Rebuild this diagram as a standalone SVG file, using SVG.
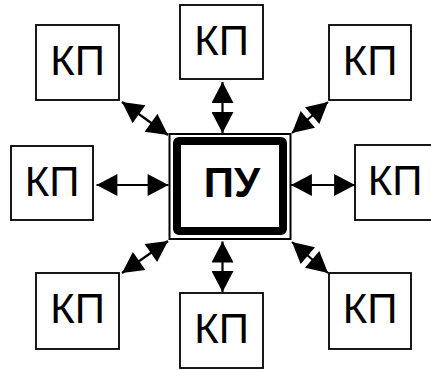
<svg xmlns="http://www.w3.org/2000/svg" width="431" height="370" viewBox="0 0 431 370">
<style>
.kp rect{fill:#fff;stroke:#000;stroke-width:1.8}
.kp text{font-family:"Liberation Sans",Arial,sans-serif;font-size:42px;text-anchor:middle;fill:#000}
.con line{stroke:#000;stroke-width:2.2;marker-start:url(#ah);marker-end:url(#ah)}
</style>
<defs>
<marker id="ah" markerUnits="userSpaceOnUse" markerWidth="22" markerHeight="22" viewBox="0 0 19 20" refX="19" refY="10" orient="auto-start-reverse">
<path d="M0,0 L19,10 L0,20 Z" fill="#000"/>
</marker>
</defs>
<rect width="431" height="370" fill="#fff"/>
<g id="connectors" class="con">
<line x1="222.5" y1="82" x2="222.5" y2="133"/>
<line x1="222.5" y1="241.5" x2="222.5" y2="292"/>
<line x1="96.5" y1="185" x2="168.5" y2="185"/>
<line x1="291" y1="185" x2="355" y2="185"/>
<line x1="122" y1="102" x2="168" y2="135"/>
<line x1="328" y1="102" x2="292" y2="133"/>
<line x1="122" y1="273" x2="168" y2="241"/>
<line x1="328" y1="273" x2="292" y2="242"/>
</g>
<g id="pu">
<rect x="169.5" y="134" width="121" height="105" fill="#fff" stroke="#000" stroke-width="2"/>
<rect x="177" y="141" width="106" height="90" rx="2" fill="#fff" stroke="#000" stroke-width="8"/>
<text x="232" y="197" font-family="'Liberation Sans',Arial,sans-serif" font-size="42" font-weight="bold" text-anchor="middle">ПУ</text>
</g>
<g id="kp-tl" class="kp"><rect x="36" y="25" width="83" height="75"/><text x="77.5" y="75">КП</text></g>
<g id="kp-t" class="kp"><rect x="180" y="5" width="83" height="74"/><text x="221.5" y="55">КП</text></g>
<g id="kp-tr" class="kp"><rect x="329" y="25" width="82" height="75"/><text x="370" y="75">КП</text></g>
<g id="kp-l" class="kp"><rect x="11" y="146" width="82" height="74"/><text x="52" y="196">КП</text></g>
<g id="kp-r" class="kp"><rect x="355" y="145" width="82" height="75"/><text x="395" y="195">КП</text></g>
<g id="kp-bl" class="kp"><rect x="36" y="273" width="83" height="76"/><text x="77.5" y="323">КП</text></g>
<g id="kp-b" class="kp"><rect x="180" y="293" width="83" height="75"/><text x="221.5" y="343">КП</text></g>
<g id="kp-br" class="kp"><rect x="329" y="273" width="82" height="76"/><text x="370" y="323">КП</text></g>
</svg>
